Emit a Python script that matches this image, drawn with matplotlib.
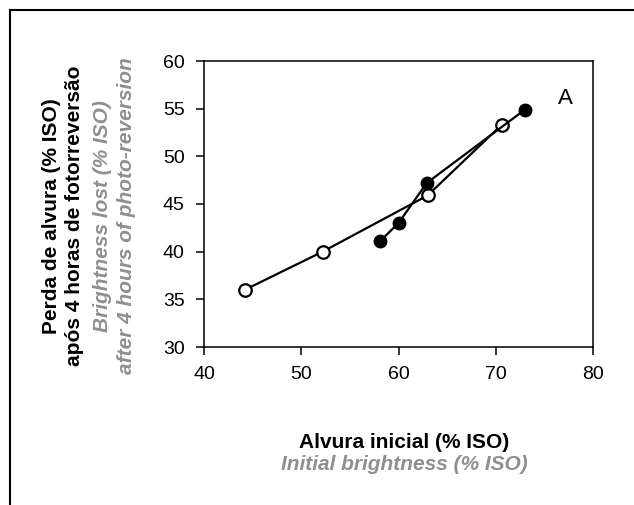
#!/usr/bin/env python3

from matplotlib import pyplot as plt
from matplotlib.lines import Line2D

plt.rcParams['font.family'] = ['Liberation Sans', 'DejaVu Sans']

# open circles
open_x = [44.2, 52.2, 63.0, 70.6]
open_y = [36.0, 40.0, 45.9, 53.3]
# filled circles
full_x = [58.1, 60.0, 62.9, 73.0]
full_y = [41.1, 43.0, 47.2, 54.9]

xticks = [40, 50, 60, 70, 80]
yticks = [30, 35, 40, 45, 50, 55, 60]

fig = plt.figure(figsize=(6.34, 5.05), dpi=100)
ax = fig.add_axes([204/634, 1-347/505, 389/634, 286/505])

ax.plot(open_x, open_y, '-o', color='black', lw=1.6, ms=9,
        mfc='white', mec='black', mew=1.6, zorder=3)
ax.plot(full_x, full_y, '-o', color='black', lw=1.6, ms=9,
        mfc='black', mec='black', zorder=4)

ax.set_xlim(40, 80)
ax.set_ylim(30, 60)
ax.set_xticks(xticks)
ax.set_yticks(yticks)
ax.tick_params(direction='out', length=6, width=1.1, labelsize=14, pad=8)
for s in ax.spines.values():
    s.set_linewidth(1.1)

ax.text(0.93, 0.87, 'A', transform=ax.transAxes, fontsize=16,
        ha='center', va='center')

# y label, four lines
gray = '#8f8f8f'
ylines = [
    (52, 'Perda de alvura (% ISO)', 'black', 'normal'),
    (75, 'após 4 horas de fotorreversão', 'black', 'normal'),
    (102, 'Brightness lost (% ISO)', gray, 'italic'),
    (127, 'after 4 hours of photo-reversion', gray, 'italic'),
]
for px, txt, c, st in ylines:
    fig.text(px/634, 1-216/505, txt, rotation=90, ha='center', va='center',
             fontsize=15, fontweight='bold', color=c, style=st)

fig.text(404/634, 1-442/505, 'Alvura inicial (% ISO)', ha='center',
         va='center', fontsize=15, fontweight='bold')
fig.text(404/634, 1-465/505, 'Initial brightness (% ISO)', ha='center',
         va='center', fontsize=15, fontweight='bold', style='italic',
         color=gray)

# outer frame (only left and top visible)
fig.add_artist(Line2D([9.5/634, 9.5/634], [0, 1-10/505], color='black', lw=1.5))
fig.add_artist(Line2D([9.5/634, 1], [1-10/505, 1-10/505], color='black', lw=1.5))

fig.savefig('out.png', dpi=100)
